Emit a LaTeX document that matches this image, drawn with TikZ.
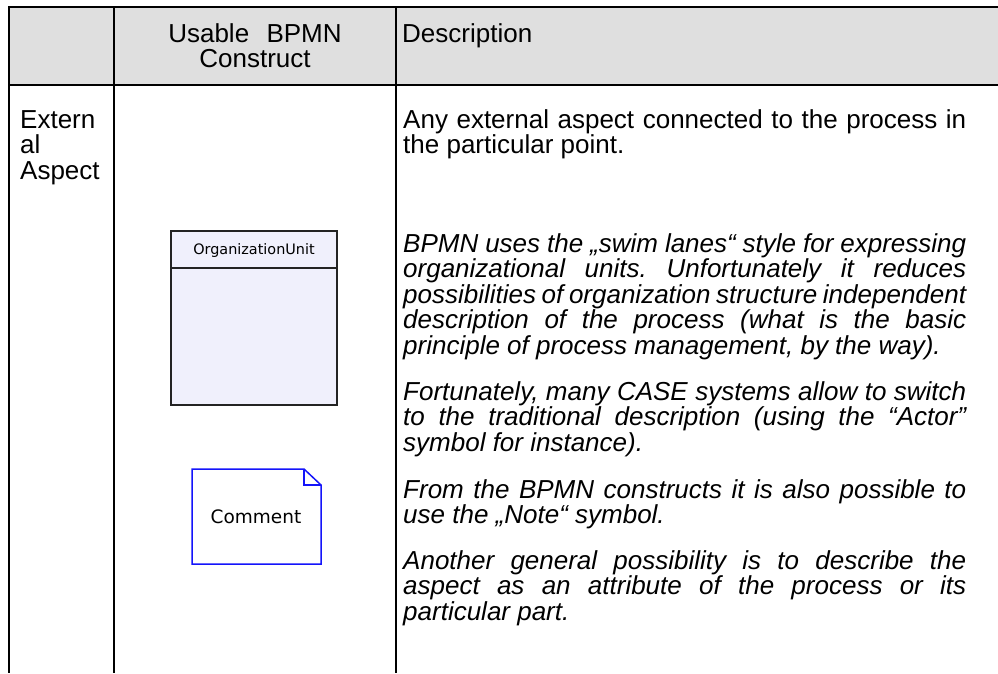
\documentclass[tikz,border=0pt]{standalone}
\usepackage{fontspec}
\setmainfont{Liberation Sans}
\newfontfamily\shapefont{DejaVu Sans}
\definecolor{headgray}{RGB}{223,223,223}
\definecolor{lanefill}{RGB}{240,240,252}
\definecolor{laneline}{RGB}{35,35,35}
\definecolor{noteblue}{RGB}{20,20,250}
% interword spaces of the font itself (stretchable), no extra space after periods
\newcommand\natspaces{\spaceskip=0pt\xspaceskip=0pt\frenchspacing}
% a line stretched to the full width of the description column
\newcommand\fullline[1]{\makebox[563pt][s]{#1}}
\begin{document}
\begin{tikzpicture}[x=1pt,y=-1pt,
  tableline/.style={line width=2pt,black},
  cell/.style={inner sep=0pt,font=\fontsize{26}{25.6}\selectfont},
  desc/.style={cell,text width=563pt,align=left,anchor=base west},
  descit/.style={desc,font=\fontsize{26}{25.6}\selectfont\itshape},
  lanebox/.style={draw=laneline,fill=lanefill,line width=1.3pt},
  notebox/.style={draw=noteblue,line width=1.5pt,line join=miter}]
\useasboundingbox (0,0) rectangle (998,673);

% header row
\fill[headgray] (9,7) rectangle (998,85);
\draw[tableline] (8,7) -- (998,7);
\draw[tableline] (8,85) -- (998,85);
\draw[tableline] (9,6) -- (9,673);
\draw[tableline] (114,6) -- (114,673);
\draw[tableline] (396,6) -- (396,673);

\node[cell,text width=260pt,align=center,anchor=base] (construct) at (255,42)
  {Usable\ \ BPMN\\Construct};
\node[cell,anchor=base west] (description) at (402,42) {Description};

% first column
\node[cell,text width=90pt,align=left,anchor=base west] (aspect) at (20,128)
  {Extern\\al\\Aspect};

% organization unit (swim lane) symbol
\draw[lanebox] (171,231) rectangle (337,405);
\draw[laneline,line width=1.2pt] (171,268) -- (337,268);
\node[inner sep=0pt,font=\shapefont\fontsize{14.4}{16}\selectfont,anchor=base]
  (orgunit) at (254,254) {OrganizationUnit};

% note (comment) symbol
\draw[notebox] (192,469) -- (304,469) -- (321,485) -- (321,564) -- (192,564) -- cycle;
\draw[notebox] (304,469) -- (304,485) -- (321,485);
\node[inner sep=0pt,font=\shapefont\fontsize{18.5}{20}\selectfont,anchor=base]
  (comment) at (256,523) {Comment};

% description column
\node[desc] (p1) at (403,128)
  {\natspaces
   \fullline{Any external aspect connected to the process in}\\
   the particular point.};
\node[descit] (p2) at (403,252)
  {\natspaces
   \fullline{BPMN uses the „swim lanes“ style for expressing}\\
   \fullline{organizational units. Unfortunately it reduces}\\
   \fullline{possibilities of organization structure independent}\\
   \fullline{description of the process (what is the basic}\\
   principle of process management, by the way).};
\node[descit] (p3) at (403,400)
  {\natspaces
   \fullline{Fortunately, many CASE systems allow to switch}\\
   \fullline{to the traditional description (using the “Actor”}\\
   symbol for instance).};
\node[descit] (p4) at (403,498)
  {\natspaces
   \fullline{From the BPMN constructs it is also possible to}\\
   use the „Note“ symbol.};
\node[descit] (p5) at (403,569)
  {\natspaces
   \fullline{Another general possibility is to describe the}\\
   \fullline{aspect as an attribute of the process or its}\\
   particular part.};
\end{tikzpicture}
\end{document}
